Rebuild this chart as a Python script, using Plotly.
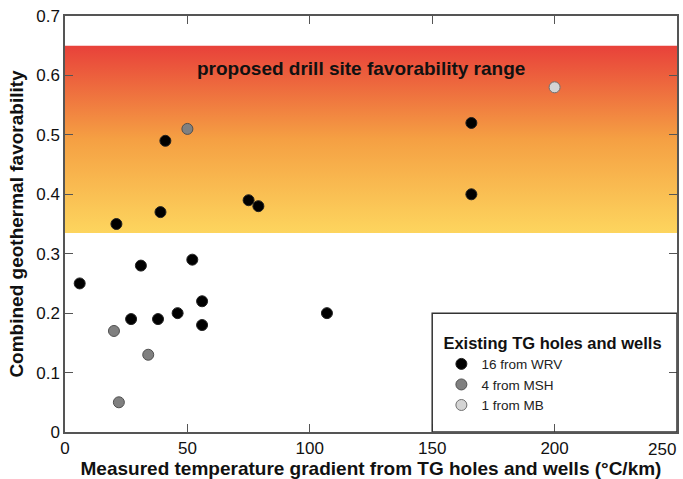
import plotly.graph_objects as go

# Data
wrv_x = [6, 21, 27, 31, 38, 39, 41, 46, 52, 56, 56, 75, 79, 107, 166, 166]
wrv_y = [0.25, 0.35, 0.19, 0.28, 0.19, 0.37, 0.49, 0.20, 0.29, 0.22, 0.18, 0.39, 0.38, 0.20, 0.52, 0.40]
msh_x = [20, 22, 34, 50]
msh_y = [0.17, 0.05, 0.13, 0.51]
mb_x = [200]
mb_y = [0.58]

band_low, band_high = 0.335, 0.65
x_range = [0, 250]
y_range = [0, 0.7]
x_ticks = [0, 50, 100, 150, 200, 250]
x_tick_text = ["0", "50", "100", "150", "200", ""]
last_x_label = "250"
y_ticks = [0, 0.1, 0.2, 0.3, 0.4, 0.5, 0.6, 0.7]
y_tick_text = ["0", "0.1", "0.2", "0.3", "0.4", "0.5", "0.6", "0.7"]

FONT = "Liberation Sans, Arial, sans-serif"

fig = go.Figure()

# favorability band with vertical gradient
fig.add_trace(go.Scatter(
    x=[x_range[0], x_range[1], x_range[1], x_range[0], x_range[0]],
    y=[band_low, band_low, band_high, band_high, band_low],
    mode="lines", line=dict(width=0), fill="toself",
    fillgradient=dict(type="vertical", start=band_low, stop=band_high,
                      colorscale=[[0, "#fdd55e"], [0.5, "#f5a043"], [1, "#e8413a"]]),
    hoverinfo="skip", showlegend=False,
))

fig.add_trace(go.Scatter(
    x=wrv_x, y=wrv_y, mode="markers", name="16 from WRV",
    marker=dict(size=11, color="black", line=dict(color="#222", width=1)),
))
fig.add_trace(go.Scatter(
    x=msh_x, y=msh_y, mode="markers", name="4 from MSH",
    marker=dict(size=11, color="#808080", line=dict(color="#505050", width=1)),
))
fig.add_trace(go.Scatter(
    x=mb_x, y=mb_y, mode="markers", name="1 from MB",
    marker=dict(size=11, color="#d4d4d4", line=dict(color="#707070", width=1)),
))

# legend box
fig.add_shape(type="rect", xref="x", yref="y", x0=150, x1=250, y0=0, y1=0.2,
              line=dict(color="#333", width=1.5), fillcolor="rgba(0,0,0,0)", layer="above")

fig.add_annotation(x=121, y=0.612, xref="x", yref="y", text="<b>proposed drill site favorability range</b>",
                   showarrow=False, font=dict(family=FONT, size=19, color="#111"))

# last x tick label, right-aligned to stay inside the page
fig.add_annotation(x=x_ticks[-1], y=-0.041, xref="x", yref="paper", text=last_x_label,
                   xanchor="right", yanchor="middle", xshift=1, showarrow=False,
                   font=dict(family=FONT, size=17, color="#111"))

axis_common = dict(showgrid=False, zeroline=False, showline=True, linecolor="#555", linewidth=1.5,
                   mirror="ticks", ticks="inside", ticklen=8, tickcolor="#555",
                   tickfont=dict(family=FONT, size=17, color="#111"))

fig.update_xaxes(range=x_range, tickvals=x_ticks, ticktext=x_tick_text,
                 title=dict(text="<b>Measured temperature gradient from TG holes and wells (°C/km)</b>",
                            font=dict(family=FONT, size=19, color="#111"), standoff=4),
                 **axis_common)
fig.update_yaxes(range=y_range, tickvals=y_ticks, ticktext=y_tick_text,
                 title=dict(text="<b>Combined geothermal favorability</b>",
                            font=dict(family=FONT, size=19, color="#111"), standoff=8),
                 **axis_common)

fig.update_layout(
    width=683, height=479,
    margin=dict(l=65, r=6, t=16, b=47, autoexpand=False),
    plot_bgcolor="white", paper_bgcolor="white",
    legend=dict(x=0.615, y=0.252, xanchor="left", yanchor="top",
                bgcolor="rgba(0,0,0,0)", borderwidth=0,
                title=dict(text="<b>Existing TG holes and wells</b>", font=dict(family=FONT, size=16.5, color="#111")),
                font=dict(family=FONT, size=13.5, color="#222"),
                tracegroupgap=0, itemsizing="trace", itemwidth=30),
    font=dict(family=FONT),
)

fig.write_html("out.html", config={"displayModeBar": False},
               post_script="document.body.style.margin='0';")
